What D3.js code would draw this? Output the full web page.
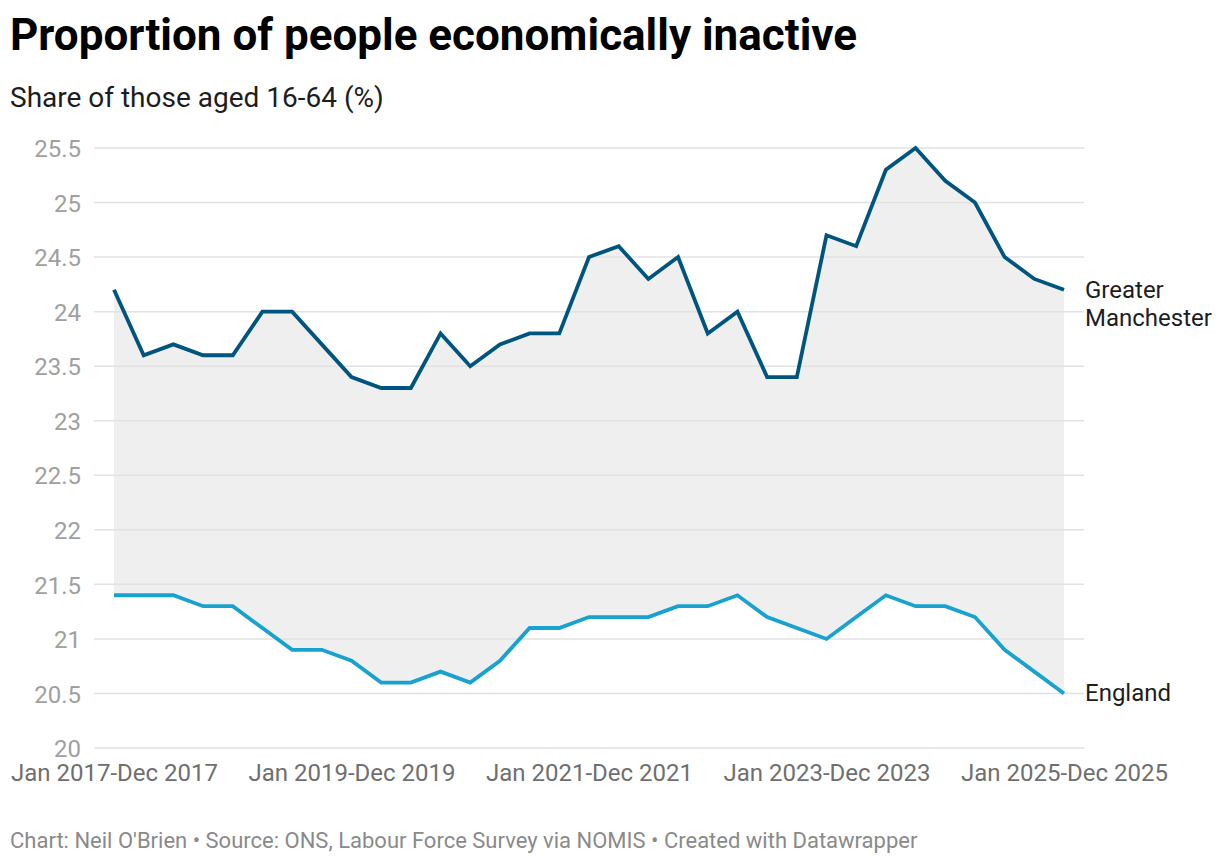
<!DOCTYPE html>
<html>
<head>
<meta charset="utf-8">
<script src="https://cdn.jsdelivr.net/npm/d3@7"></script>
<style>
  body { margin: 0; background: #fff; font-family: Roboto, "Noto Sans", sans-serif; }
</style>
</head>
<body>
<div id="chart"></div>
<script>
// rolling 12-month periods, one per quarter
var periods = d3.range(33);
var tickIndex = [0, 8, 16, 24, 32];
var tickLabels = ["Jan 2017-Dec 2017", "Jan 2019-Dec 2019", "Jan 2021-Dec 2021",
                  "Jan 2023-Dec 2023", "Jan 2025-Dec 2025"];
var yTicks = [20, 20.5, 21, 21.5, 22, 22.5, 23, 23.5, 24, 24.5, 25, 25.5];

var greaterManchester = [24.2, 23.6, 23.7, 23.6, 23.6, 24.0, 24.0, 23.7, 23.4, 23.3, 23.3,
                         23.8, 23.5, 23.7, 23.8, 23.8, 24.5, 24.6, 24.3, 24.5, 23.8, 24.0,
                         23.4, 23.4, 24.7, 24.6, 25.3, 25.5, 25.2, 25.0, 24.5, 24.3, 24.2];
var england = [21.4, 21.4, 21.4, 21.3, 21.3, 21.1, 20.9, 20.9, 20.8, 20.6, 20.6,
               20.7, 20.6, 20.8, 21.1, 21.1, 21.2, 21.2, 21.2, 21.3, 21.3, 21.4,
               21.2, 21.1, 21.0, 21.2, 21.4, 21.3, 21.3, 21.2, 20.9, 20.7, 20.5];

var W = 1220, H = 864;
var svg = d3.select("#chart").append("svg")
  .attr("width", W).attr("height", H);

svg.append("text")
  .attr("x", 10).attr("y", 50)
  .style("font-size", "44px").style("font-weight", "700").style("fill", "#000")
  .text("Proportion of people economically inactive");

svg.append("text")
  .attr("x", 10).attr("y", 107)
  .style("font-size", "28px").style("fill", "#1d1d1d")
  .text("Share of those aged 16-64 (%)");

var xScale = d3.scaleLinear().domain([0, 32]).range([114, 1064]);
var yScale = d3.scaleLinear().domain([20, 25.5]).range([748, 148]);

// y labels
var yAxis = d3.axisLeft(yScale)
  .tickValues(yTicks)
  .tickSize(0)
  .tickPadding(0)
  .tickFormat(function(d) { return d3.format("")(d); });
var yG = svg.append("g").attr("id", "yAxisG").attr("transform", "translate(81,0)").call(yAxis);
yG.select(".domain").remove();
yG.selectAll("text")
  .style("font-size", "24px").style("fill", "#a0a0a0")
  .style("font-family", "Roboto, sans-serif")
  .attr("dy", "0.36em");

// gridlines
svg.append("g").attr("id", "gridG")
  .selectAll("line")
  .data(yTicks)
  .enter().append("line")
  .attr("x1", 94).attr("x2", 1084)
  .attr("y1", function(d) { return yScale(d); })
  .attr("y2", function(d) { return yScale(d); })
  .style("stroke", "#e2e2e2").style("stroke-width", 1.5);

// shaded band between the two series
var band = d3.area()
  .x(function(i) { return xScale(i); })
  .y0(function(i) { return yScale(england[i]); })
  .y1(function(i) { return yScale(greaterManchester[i]); });

svg.insert("path", "#gridG")
  .attr("d", band(periods))
  .attr("fill", "#efefef");

// x axis labels
var xAxis = d3.axisBottom(xScale)
  .tickValues(tickIndex)
  .tickSize(0)
  .tickPadding(0)
  .tickFormat(function(d, i) { return tickLabels[i]; });
var xG = svg.append("g").attr("id", "xAxisG").attr("transform", "translate(0,781)").call(xAxis);
xG.select(".domain").remove();
xG.selectAll("text")
  .attr("dy", 0).attr("y", 0)
  .style("font-size", "24px").style("fill", "#6f6f6f")
  .style("font-family", "Roboto, sans-serif");

function createLinea(values, colour, name) {
  var line = d3.line()
    .x(function(i) { return xScale(i); })
    .y(function(i) { return yScale(values[i]); });
  svg.append("path")
    .attr("id", "linea" + name)
    .attr("d", line(periods))
    .attr("fill", "none")
    .attr("stroke", colour)
    .attr("stroke-width", 3.8)
    .attr("stroke-linejoin", "miter");
}

createLinea(england, "#18a2cf", "england");
createLinea(greaterManchester, "#00557f", "gm");

// direct labels
var last = periods.length - 1;
var gmLabel = svg.append("text")
  .attr("x", 1085).attr("y", yScale(greaterManchester[last]) + 8)
  .style("font-size", "24px").style("fill", "#1d1d1d");
gmLabel.append("tspan").attr("x", 1085).text("Greater");
gmLabel.append("tspan").attr("x", 1085).attr("dy", 28).text("Manchester");

svg.append("text")
  .attr("x", 1085).attr("y", yScale(england[last]) + 8)
  .style("font-size", "24px").style("fill", "#1d1d1d")
  .text("England");

svg.append("text")
  .attr("x", 10).attr("y", 848)
  .style("font-size", "22px").style("fill", "#8a8a8a")
  .text("Chart: Neil O'Brien \u2022 Source: ONS, Labour Force Survey via NOMIS \u2022 Created with Datawrapper");
</script>
</body>
</html>
